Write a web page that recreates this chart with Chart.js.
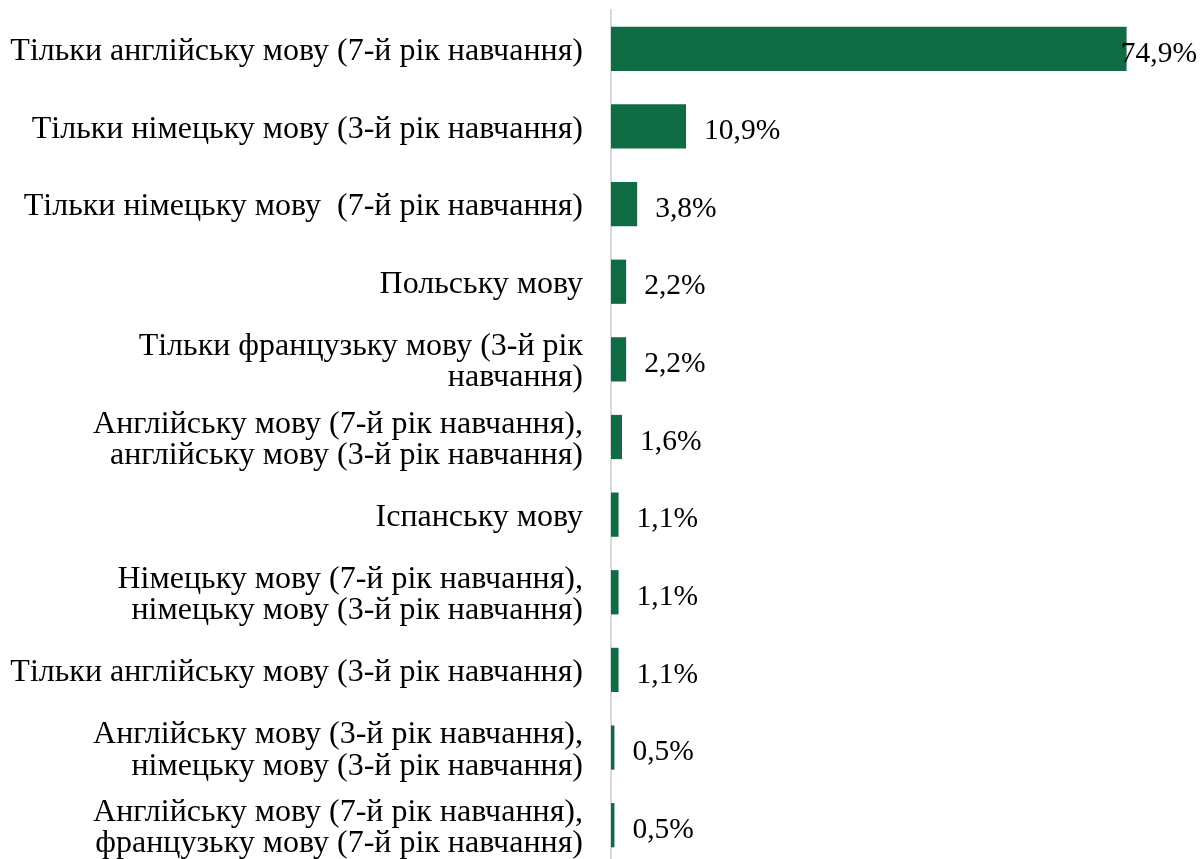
<!DOCTYPE html>
<html>
<head>
<meta charset="utf-8">
<script src="https://cdn.jsdelivr.net/npm/chart.js@4.4.0/dist/chart.umd.min.js"></script>
<style>
  html, body { margin: 0; padding: 0; background: #fff; overflow: hidden; }
  #wrap { width: 1203px; height: 864px; }
</style>
</head>
<body>
<div id="wrap"><canvas id="langChart"></canvas></div>
<script>
// ----------- Data -----------------
const categories = [
    "Тільки англійську мову (7-й рік навчання)",
    "Тільки німецьку мову (3-й рік навчання)",
    "Тільки німецьку мову  (7-й рік навчання)",
    "Польську мову",
    ["Тільки французьку мову (3-й рік", "навчання)"],
    ["Англійську мову (7-й рік навчання),", "англійську мову (3-й рік навчання)"],
    "Іспанську мову",
    ["Німецьку мову (7-й рік навчання),", "німецьку мову (3-й рік навчання)"],
    "Тільки англійську мову (3-й рік навчання)",
    ["Англійську мову (3-й рік навчання),", "німецьку мову (3-й рік навчання)"],
    ["Англійську мову (7-й рік навчання),", "французьку мову (7-й рік навчання)"]
];
const shares = [74.9, 10.9, 3.8, 2.2, 2.2, 1.6, 1.1, 1.1, 1.1, 0.5, 0.5];

const barColor = "#0e6b43";
const fontFamily = "'Liberation Serif', 'Times New Roman', serif";

// value labels after each bar
const valueLabels = {
    id: "valueLabels",
    afterDatasetsDraw(chart) {
        const ctx = chart.ctx;
        const meta = chart.getDatasetMeta(0);
        ctx.save();
        ctx.font = "29.5px " + fontFamily;
        ctx.fillStyle = "#000";
        ctx.textBaseline = "middle";
        ctx.textAlign = "left";
        meta.data.forEach((bar, i) => {
            const txt = shares[i].toFixed(1).replace(".", ",") + "%";
            const w = ctx.measureText(txt).width;
            let x = bar.x + 18;
            if (x + w > chart.width - 6) x = chart.width - 6 - w;
            ctx.fillText(txt, x, bar.y + 5);
        });
        ctx.restore();
    }
};

new Chart(document.getElementById("langChart"), {
    type: "bar",
    data: {
        labels: categories,
        datasets: [{
            data: shares,
            backgroundColor: barColor,
            barPercentage: 0.57,
            categoryPercentage: 1
        }]
    },
    options: {
        indexAxis: "y",
        responsive: true,
        maintainAspectRatio: false,
        animation: false,
        layout: { padding: { top: 10, bottom: 0, left: 0, right: 0 } },
        plugins: {
            legend: { display: false },
            tooltip: { enabled: false }
        },
        scales: {
            x: {
                display: false,
                min: 0,
                max: 86
            },
            y: {
                afterFit: (scale) => {
                    scale.width = 611;
                    scale.paddingTop = 0;
                    scale.paddingBottom = 0;
                },
                grid: { display: false },
                border: { display: true, color: "#d9d9d9", width: 2 },
                ticks: {
                    color: "#000",
                    padding: 20,
                    labelOffset: 3,
                    font: { family: fontFamily, size: 32, lineHeight: 0.98 }
                }
            }
        }
    },
    plugins: [valueLabels]
});
</script>
</body>
</html>
